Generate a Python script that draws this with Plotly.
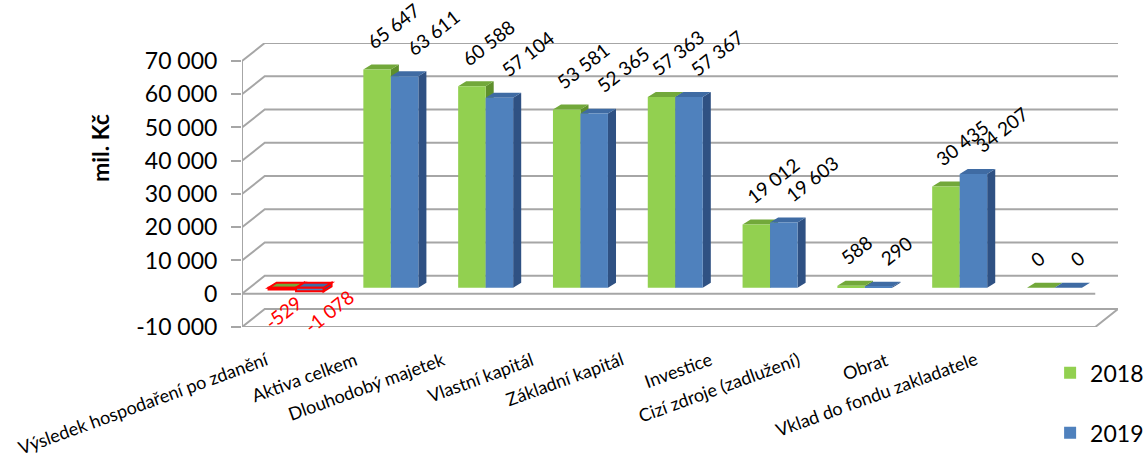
import plotly.graph_objects as go

categories = ['Výsledek hospodaření po zdanění', 'Aktiva celkem', 'Dlouhodobý majetek',
              'Vlastní kapitál', 'Základní kapitál', 'Investice',
              'Cizí zdroje (zadlužení)', 'Obrat', 'Vklad do fondu zakladatele']
values_2018 = [-529, 65647, 60588, 53581, 57363, 19012, 588, 30435, 0]
values_2019 = [-1078, 63611, 57104, 52365, 57367, 19603, 290, 34207, 0]
tick_values = [-10000, 0, 10000, 20000, 30000, 40000, 50000, 60000, 70000]

FONT = 'Lato'
GRID = '#A6A6A6'

# pseudo 3D settings (axis units)
wall_dx, wall_dy = 0.24, 5400     # depth of the back wall
bar_dx, bar_dy = 0.085, 1500      # depth of a bar
bar_base = 1800                   # bars stand a bit behind the front edge
bar_w = 0.29

series = [
    dict(name='2018', vals=values_2018, offset=-0.22, front='#92D050', top='#72A83A', side='#5E8F2C',
         xs=-20, neg_xs=-28, neg_ys=4),
    dict(name='2019', vals=values_2019, offset=0.07, front='#4F81BD', top='#3F6BA3', side='#2F5183',
         xs=-8, neg_xs=-16, neg_ys=12),
]

def fmt(v):
    return f'{v:,}'.replace(',', ' ')

fig = go.Figure()
shapes = []
annotations = []

n = len(categories)
x_left, x_right = -0.5, n - 0.5

# grid: back wall lines with a slanted part on the left
for v in tick_values:
    shapes.append(dict(type='path', layer='below', xref='x', yref='y',
                       path=f'M{x_left},{v} L{x_left + wall_dx},{v + wall_dy} L{x_right + wall_dx},{v + wall_dy}',
                       line=dict(color=GRID, width=2)))
# floor at minimum and the zero plane front edge
ymin = tick_values[0]
shapes.append(dict(type='path', layer='below', xref='x', yref='y',
                   path=f'M{x_left},{ymin} L{x_right},{ymin} L{x_right + wall_dx},{ymin + wall_dy}',
                   line=dict(color=GRID, width=2)))
shapes.append(dict(type='line', layer='below', xref='x', yref='y',
                   x0=x_left, x1=x_right, y0=0, y1=0, line=dict(color=GRID, width=2)))
shapes.append(dict(type='line', layer='below', xref='x', yref='y',
                   x0=x_left, x1=x_left, y0=tick_values[0], y1=tick_values[-1],
                   line=dict(color=GRID, width=2)))

for s in series:
    fig.add_trace(go.Bar(
        x=list(range(n)), y=s['vals'], base=[bar_base] * n,
        offset=s['offset'], width=bar_w, name=s['name'], legendgroup=s['name'],
        marker=dict(color=s['front'], line=dict(width=0)),
        hoverinfo='skip'))
    for i, v in enumerate(s['vals']):
        x0 = i + s['offset']
        x1 = x0 + bar_w
        top = bar_base + max(v, 0)
        bot = bar_base + min(v, 0)
        outline = dict(color='#FF0000', width=2) if v < 0 else dict(width=0)
        # right side face
        shapes.append(dict(type='path', layer='between', xref='x', yref='y',
                           path=f'M{x1},{bot} L{x1},{top} L{x1 + bar_dx},{top + bar_dy} L{x1 + bar_dx},{bot + bar_dy} Z',
                           fillcolor=s['side'], line=outline))
        # top face
        shapes.append(dict(type='path', layer='between', xref='x', yref='y',
                           path=f'M{x0},{top} L{x1},{top} L{x1 + bar_dx},{top + bar_dy} L{x0 + bar_dx},{top + bar_dy} Z',
                           fillcolor=s['top'], line=outline))
        # value label
        if v < 0:
            shapes.append(dict(type='rect', layer='above', xref='x', yref='y',
                               x0=x0, x1=x1, y0=bot, y1=top, line=outline))
            annotations.append(dict(x=x0 + bar_w / 2, y=bot, xref='x', yref='y', text=fmt(v),
                                    showarrow=False, textangle=-38, xanchor='left', yanchor='top',
                                    xshift=s['neg_xs'], yshift=s['neg_ys'], borderpad=3,
                                    font=dict(family=FONT, size=19, color='#FF0000')))
        else:
            annotations.append(dict(x=x0 + bar_w / 2, y=top, xref='x', yref='y', text=fmt(v),
                                    showarrow=False, textangle=-38, xanchor='left', yanchor='bottom',
                                    xshift=s['xs'], yshift=11, borderpad=3,
                                    font=dict(family=FONT, size=19, color='black')))

# category labels, rotated, right end under each category (slight perspective shift)
for i, c in enumerate(categories):
    annotations.append(dict(x=0.935 * i - 0.22, y=ymin, xref='x', yref='y', text=c,
                            showarrow=False, textangle=-20, xanchor='right', yanchor='top',
                            xshift=5, yshift=-18, font=dict(family=FONT, size=18, color='black')))

# y axis title
annotations.append(dict(x=(100 - 242) / 876, y=(327 - 148) / 284, xref='paper', yref='paper',
                        text='<b>mil. Kč</b>', showarrow=False, textangle=-90,
                        xanchor='center', yanchor='middle',
                        font=dict(family=FONT, size=23, color='black')))

fig.update_layout(
    width=1146, height=454,
    margin=dict(l=242, r=28, t=43, b=127, pad=0, autoexpand=False),
    plot_bgcolor='white', paper_bgcolor='white',
    barmode='overlay',
    shapes=shapes, annotations=annotations,
    font=dict(family=FONT, color='black'),
    legend=dict(x=0.9225, y=-0.086, xanchor='left', yanchor='top',
                font=dict(family=FONT, size=23), tracegroupgap=27,
                bgcolor='rgba(0,0,0,0)'),
)
fig.update_xaxes(range=[x_left, x_right + wall_dx], showgrid=False, zeroline=False,
                 showticklabels=False, showline=False)
fig.update_yaxes(range=[ymin, tick_values[-1] + wall_dy], showgrid=False, zeroline=False,
                 tickvals=tick_values, ticktext=[fmt(v) for v in tick_values],
                 ticks='outside', ticklen=10, tickwidth=2, tickcolor=GRID,
                 ticklabelstandoff=9, tickfont=dict(family=FONT, size=23, color='black'),
                 showline=False)

# drop the default page margin so the figure fills the window exactly
fig.write_html('out.html', config={'displayModeBar': False},
               post_script="document.body.style.margin='0';")
